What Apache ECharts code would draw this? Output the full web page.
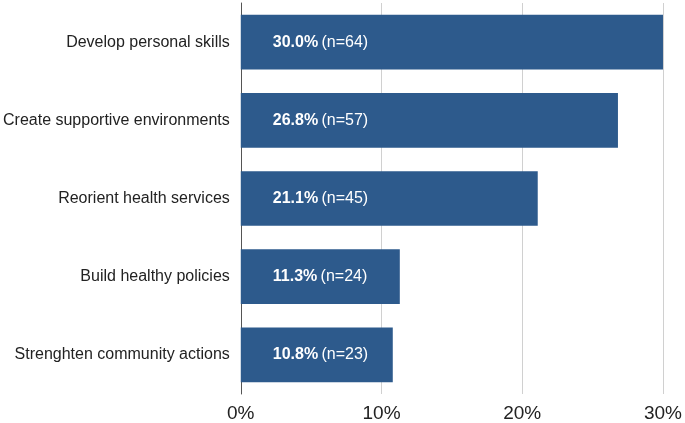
<!DOCTYPE html>
<html><head><meta charset="utf-8">
<script src="https://cdn.jsdelivr.net/npm/echarts@6/dist/echarts.min.js"></script>
<style>html,body{margin:0;padding:0;background:#fff}#c{width:685px;height:423px}</style>
</head><body><div id="c"></div>
<script>
const categories = ["Develop personal skills","Create supportive environments","Reorient health services","Build healthy policies","Strenghten community actions"];
const percents = [30.0, 26.8, 21.1, 11.3, 10.8];
const counts = [64, 57, 45, 24, 23];
const tickLabels = ["0%","10%","20%","30%"];

const chart = echarts.init(document.getElementById('c'));
chart.setOption({
  animation:false,
  grid:{left:240,right:18,top:3,bottom:28.5,containLabel:false},
  xAxis:{type:'value',min:0,max:30,interval:10,
    axisLine:{show:false},axisTick:{show:false},
    splitLine:{show:true,lineStyle:{color:'#d0d0d0',width:1}},
    axisLabel:{margin:10,fontSize:19,color:'#222',fontFamily:'Liberation Sans, Arial, sans-serif',
      formatter:(v)=>tickLabels[Math.round(v/10)]}},
  yAxis:{type:'category',data:categories,inverse:true,
    axisLine:{show:true,lineStyle:{color:'#555',width:1}},axisTick:{show:false},
    axisLabel:{margin:11,fontSize:16,color:'#222',fontFamily:'Liberation Sans, Arial, sans-serif'}},
  series:[{type:'bar',data:percents,barWidth:'70%',
    itemStyle:{color:'#2d5a8c'},
    label:{show:true,position:'insideLeft',distance:32,
      fontFamily:'Liberation Sans, Arial, sans-serif',
      formatter:(p)=>'{b|'+p.value.toFixed(1)+'%} {n|(n='+counts[p.dataIndex]+')}',
      rich:{b:{fontSize:16,fontWeight:'bold',color:'#fff',fontFamily:'Liberation Sans, Arial, sans-serif'},
            n:{fontSize:16,color:'#fff',fontFamily:'Liberation Sans, Arial, sans-serif'}}}}]
});
</script></body></html>
